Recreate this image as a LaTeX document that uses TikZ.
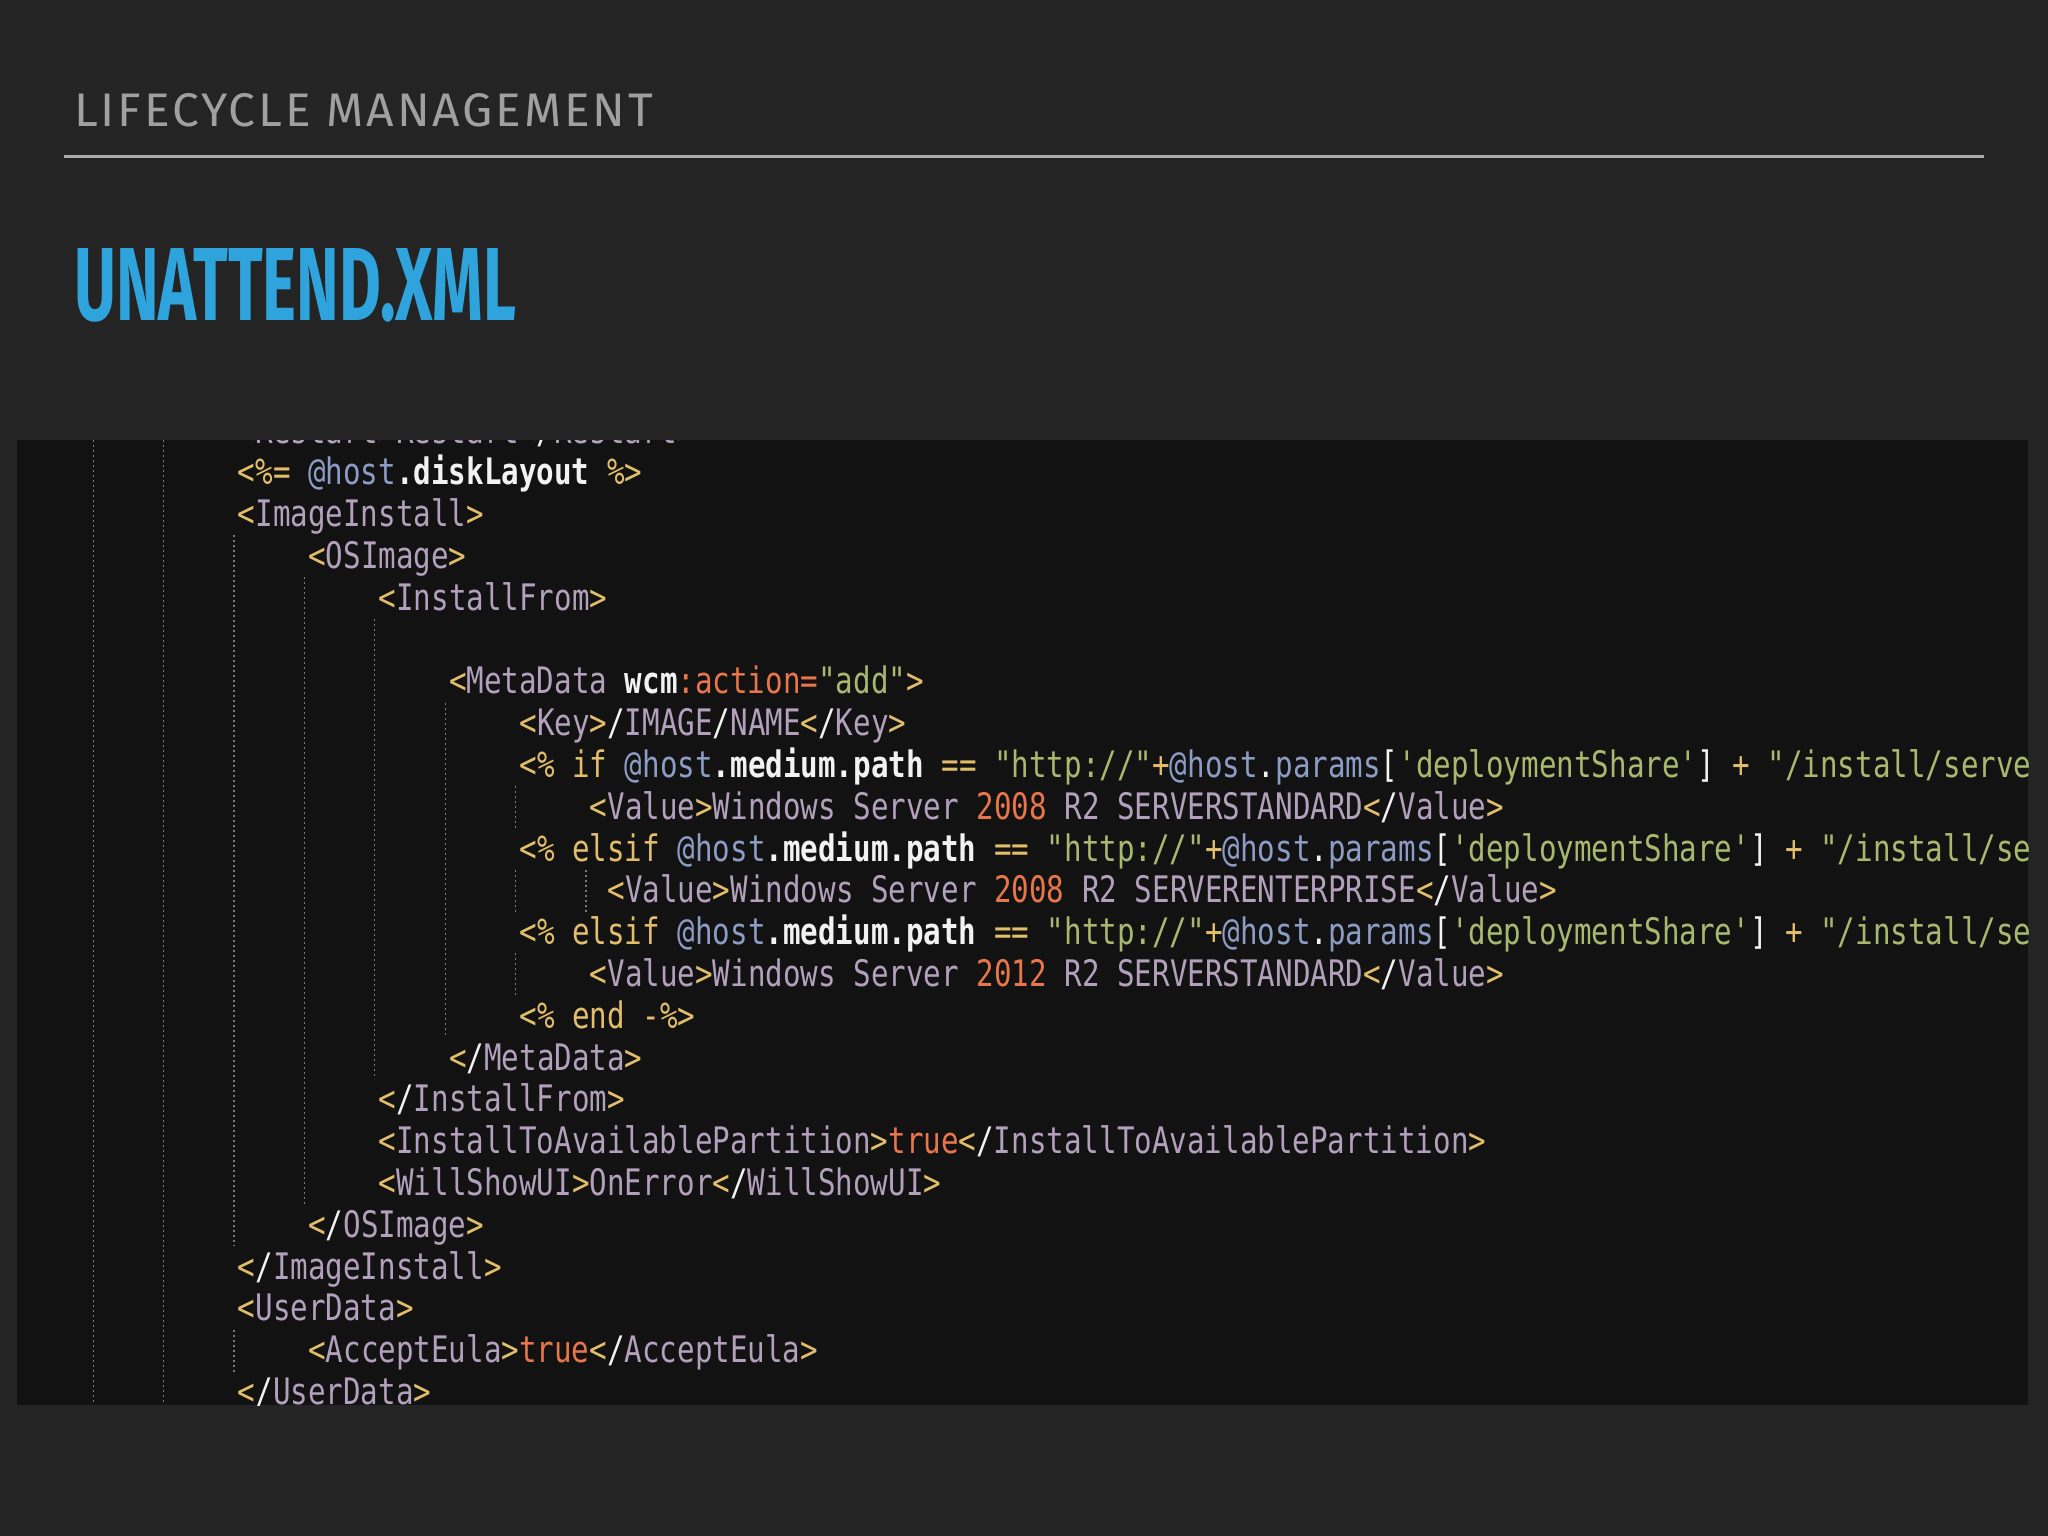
\documentclass[tikz,border=0pt]{standalone}
\usepackage{fontspec}
\usepackage{graphicx}
\newfontfamily\cf[FakeStretch=0.8]{DejaVu Sans Mono}
\newfontfamily\hf{Fira Sans}
\definecolor{bgc}{HTML}{242424}
\definecolor{boxc}{HTML}{121212}
\definecolor{hdr}{HTML}{A0A0A0}
\definecolor{ttl}{HTML}{2EA3DC}
\definecolor{gold}{HTML}{E2BE6A}
\definecolor{mauve}{HTML}{B3A0BC}
\definecolor{blu}{HTML}{8C9CC4}
\definecolor{wht}{HTML}{F2F2F2}
\definecolor{grn}{HTML}{A9B86E}
\definecolor{org}{HTML}{E8764A}
\definecolor{guide}{HTML}{7A7A7A}
\newcommand\Y[1]{\textcolor{gold}{#1}}
\newcommand\M[1]{\textcolor{mauve}{#1}}
\newcommand\U[1]{\textcolor{blu}{#1}}
\newcommand\W[1]{\textcolor{wht}{#1}}
\newcommand\G[1]{\textcolor{grn}{#1}}
\newcommand\Or[1]{\textcolor{org}{#1}}
\newcommand\tg[1]{\Y{<}\M{#1}\Y{>}}
\newcommand\ctg[1]{\Y{<}\W{/}\M{#1}\Y{>}}
\tikzset{code/.style={anchor=base west,inner sep=0pt,font=\cf\fontsize{36.5}{40}\selectfont,text=mauve},
 gd/.style={guide,line width=1.2pt,dash pattern=on 2pt off 3pt}}
\begin{document}
\begin{tikzpicture}[x=1pt,y=-1pt]
\fill[bgc] (0,0) rectangle (2048,1536);
\useasboundingbox (0,0) rectangle (2048,1536);
\node[anchor=base west,inner sep=0pt,text=hdr] (hd) at (74,127) {\resizebox{579pt}{33pt}{\hf\addfontfeatures{LetterSpace=6}LIFECYCLE MANAGEMENT}};
\draw[hdr!90,line width=3pt] (64,157) -- (1984,157);
\node[anchor=base west,inner sep=0pt,text=ttl] (tt) at (74,320) {\resizebox{442pt}{72pt}{\hf\bfseries UNATTEND.XML}};
\fill[boxc] (17,440) rectangle (2028,1405);
\begin{scope}
\clip (17,440) rectangle (2028,1405);
% guides
\foreach \k in {-2,-1} \draw[gd] ({234+70.4*\k},440) -- ({234+70.4*\k},1405);
\draw[gd] (234,{431+41.8*3-21}) -- (234,{431+41.8*19+21});
\draw[gd] (234,{431+41.8*22-21}) -- (234,{431+41.8*22+21});
\draw[gd] (304.4,{431+41.8*4-21}) -- (304.4,{431+41.8*18+21});
\draw[gd] (374.8,{431+41.8*5-21}) -- (374.8,{431+41.8*15+21});
\draw[gd] (445.2,{431+41.8*7-21}) -- (445.2,{431+41.8*14+21});
\foreach \i in {9,11,13} \draw[gd] (515.6,{431+41.8*\i-21}) -- (515.6,{431+41.8*\i+21});
\draw[gd] (586,{431+41.8*11-21}) -- (586,{431+41.8*11+21});
% code lines: x = 237.7 + 17.6*n, base = 443 + 41.8*i
\node[code] (l0) at (237.7,{443+41.8*0}) {\tg{Restart}\M{Restart}\ctg{Restart}};
\node[code] (l1) at (237.7,{443+41.8*1}) {\Y{<\%=} \U{@host}\W{\bfseries .diskLayout} \Y{\%>}};
\node[code] (l2) at (237.7,{443+41.8*2}) {\tg{ImageInstall}};
\node[code] (l3) at ({237.7+17.6*4},{443+41.8*3}) {\tg{OSImage}};
\node[code] (l4) at ({237.7+17.6*8},{443+41.8*4}) {\tg{InstallFrom}};
\node[code] (l6) at ({237.7+17.6*12},{443+41.8*6}) {\Y{<}\M{MetaData} \W{\bfseries wcm}\Or{:action=}\G{"add"}\Y{>}};
\node[code] (l7) at ({237.7+17.6*16},{443+41.8*7}) {\tg{Key}\W{/}\M{IMAGE}\W{/}\M{NAME}\ctg{Key}};
\node[code] (l8) at ({237.7+17.6*16},{443+41.8*8}) {\Y{<\% if} \U{@host}\W{\bfseries .medium.path} \Y{==} \G{"http://"}\Y{+}\U{@host}\W{.}\U{params}\W{[}\G{'deploymentShare'}\W{]} \Y{+} \G{"/install/server2008r2"}};
\node[code] (l9) at ({237.7+17.6*20},{443+41.8*9}) {\tg{Value}\M{Windows Server} \Or{2008} \M{R2 SERVERSTANDARD}\ctg{Value}};
\node[code] (l10) at ({237.7+17.6*16},{443+41.8*10}) {\Y{<\% elsif} \U{@host}\W{\bfseries .medium.path} \Y{==} \G{"http://"}\Y{+}\U{@host}\W{.}\U{params}\W{[}\G{'deploymentShare'}\W{]} \Y{+} \G{"/install/server2008r2"}};
\node[code] (l11) at ({237.7+17.6*21},{443+41.8*11}) {\tg{Value}\M{Windows Server} \Or{2008} \M{R2 SERVERENTERPRISE}\ctg{Value}};
\node[code] (l12) at ({237.7+17.6*16},{443+41.8*12}) {\Y{<\% elsif} \U{@host}\W{\bfseries .medium.path} \Y{==} \G{"http://"}\Y{+}\U{@host}\W{.}\U{params}\W{[}\G{'deploymentShare'}\W{]} \Y{+} \G{"/install/server2012r2"}};
\node[code] (l13) at ({237.7+17.6*20},{443+41.8*13}) {\tg{Value}\M{Windows Server} \Or{2012} \M{R2 SERVERSTANDARD}\ctg{Value}};
\node[code] (l14) at ({237.7+17.6*16},{443+41.8*14}) {\Y{<\% end -\%>}};
\node[code] (l15) at ({237.7+17.6*12},{443+41.8*15}) {\ctg{MetaData}};
\node[code] (l16) at ({237.7+17.6*8},{443+41.8*16}) {\ctg{InstallFrom}};
\node[code] (l17) at ({237.7+17.6*8},{443+41.8*17}) {\tg{InstallToAvailablePartition}\Or{true}\ctg{InstallToAvailablePartition}};
\node[code] (l18) at ({237.7+17.6*8},{443+41.8*18}) {\tg{WillShowUI}\M{OnError}\ctg{WillShowUI}};
\node[code] (l19) at ({237.7+17.6*4},{443+41.8*19}) {\ctg{OSImage}};
\node[code] (l20) at (237.7,{443+41.8*20}) {\ctg{ImageInstall}};
\node[code] (l21) at (237.7,{443+41.8*21}) {\tg{UserData}};
\node[code] (l22) at ({237.7+17.6*4},{443+41.8*22}) {\tg{AcceptEula}\Or{true}\ctg{AcceptEula}};
\node[code] (l23) at (237.7,{443+41.8*23}) {\ctg{UserData}};
\end{scope}
\end{tikzpicture}
\end{document}
